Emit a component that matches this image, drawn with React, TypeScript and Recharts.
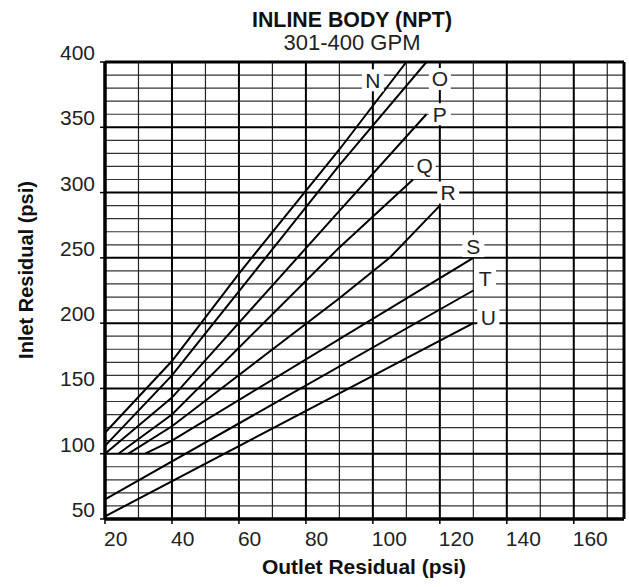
import React from 'react';
import { ComposedChart, Line, XAxis, YAxis, CartesianGrid, Scatter } from 'recharts';

// ---- data (outlet psi -> inlet psi) ----
const xTicks = [20, 40, 60, 80, 100, 120, 140, 160];
const yTicks = [50, 100, 150, 200, 250, 300, 350, 400];

const lineN = [{ x: 20, y: 116 }, { x: 40, y: 171 }, { x: 60, y: 238 }, { x: 90, y: 333 }, { x: 110, y: 400 }];
const lineO = [{ x: 20, y: 106 }, { x: 40, y: 160 }, { x: 90, y: 321 }, { x: 116, y: 400 }];
const lineP = [{ x: 20, y: 100 }, { x: 40, y: 143 }, { x: 90, y: 286 }, { x: 116, y: 360 }];
const lineQ = [{ x: 24, y: 100 }, { x: 40, y: 130 }, { x: 90, y: 258 }, { x: 112, y: 310 }];
const lineR = [{ x: 27, y: 100 }, { x: 40, y: 121 }, { x: 90, y: 219 }, { x: 105, y: 250 }, { x: 120, y: 290 }];
const lineS = [{ x: 32, y: 100 }, { x: 40, y: 110 }, { x: 130, y: 250 }];
const lineT = [{ x: 20, y: 65 }, { x: 130, y: 225 }];
const lineU = [{ x: 20, y: 52 }, { x: 130, y: 200 }];

const seriesList = [lineN, lineO, lineP, lineQ, lineR, lineS, lineT, lineU];

const curveLabels = [
  { x: 100, y: 386, name: 'N' },
  { x: 120, y: 387, name: 'O' },
  { x: 120, y: 360, name: 'P' },
  { x: 115.5, y: 321, name: 'Q' },
  { x: 122.5, y: 300, name: 'R' },
  { x: 130, y: 259, name: 'S' },
  { x: 133.5, y: 234, name: 'T' },
  { x: 134.5, y: 204, name: 'U' },
];

const minorY = [60, 70, 80, 90, 110, 120, 130, 140, 160, 170, 180, 190, 210, 220, 230, 240, 260, 270, 280, 290, 310, 320, 330, 340, 360, 370, 380, 390];
const majorY = [100, 150, 200, 250, 300, 350];
const minorX = [30, 50, 70, 90, 110, 130, 150, 170];
const majorX = [40, 60, 80, 100, 120, 140, 160];
const borderX = [20, 175];
const borderY = [50, 400];

const FONT = '"Liberation Sans", Arial, Helvetica, sans-serif';

const LabelShape = (props: any) => {
  const { cx, cy, payload } = props;
  return (
    <g>
      <rect x={cx - 11} y={cy - 11} width={22} height={22} fill="#fff" />
      <text x={cx} y={cy + 7.5} textAnchor="middle" fontSize={21} fontFamily={FONT} fill="#222">
        {payload.name}
      </text>
    </g>
  );
};

const XTick = (p: any) => (
  <text x={p.x - 1} y={p.y + 20} textAnchor="start" fontSize={21} fontFamily={FONT} fill="#222">
    {p.payload.value}
  </text>
);

const YTick = (p: any) => (
  <text x={p.x} y={p.y - 2} textAnchor="end" fontSize={21} fontFamily={FONT} fill="#222">
    {p.payload.value}
  </text>
);

export default function App() {
  return (
    <div style={{ position: 'absolute', left: 0, top: 0, width: 629, height: 587, background: '#fff' }}>
      <ComposedChart width={629} height={587} margin={{ top: 62, right: 5, bottom: 28, left: 0 }}>
        <CartesianGrid horizontalValues={minorY} vertical={false} stroke="#333" strokeWidth={1.2} />
        <CartesianGrid verticalValues={minorX} horizontal={false} stroke="#222" strokeWidth={1.2} />
        <CartesianGrid horizontalValues={majorY} vertical={false} stroke="#000" strokeWidth={2} />
        <CartesianGrid verticalValues={majorX} horizontal={false} stroke="#000" strokeWidth={2} />
        <CartesianGrid horizontalValues={borderY} verticalValues={borderX} stroke="#000" strokeWidth={3} />
        <XAxis
          type="number"
          dataKey="x"
          domain={[20, 175]}
          ticks={xTicks}
          interval={0}
          allowDataOverflow
          height={40}
          tickSize={5}
          tickMargin={2}
          axisLine={{ stroke: '#000', strokeWidth: 3 }}
          tickLine={{ stroke: '#000', strokeWidth: 1.5 }}
          tick={<XTick />}
        />
        <YAxis
          type="number"
          dataKey="y"
          domain={[50, 400]}
          ticks={yTicks}
          interval={0}
          allowDataOverflow
          width={105}
          tickSize={5}
          tickMargin={5}
          axisLine={{ stroke: '#000', strokeWidth: 3 }}
          tickLine={{ stroke: '#000', strokeWidth: 1.5 }}
          tick={<YTick />}
        />
        {seriesList.map((d, i) => (
          <Line
            key={i}
            data={d}
            dataKey="y"
            type="linear"
            stroke="#000"
            strokeWidth={2}
            dot={false}
            activeDot={false}
            isAnimationActive={false}
          />
        ))}
        <Scatter data={curveLabels} dataKey="y" shape={<LabelShape />} isAnimationActive={false} />
      </ComposedChart>
      <svg width={629} height={587} style={{ position: 'absolute', left: 0, top: 0, pointerEvents: 'none' }}>
        <text x={352} y={27} textAnchor="middle" fontSize={22} fontWeight="bold" fontFamily={FONT} fill="#111" textLength={200} lengthAdjust="spacingAndGlyphs">
          INLINE BODY (NPT)
        </text>
        <text x={352} y={50} textAnchor="middle" fontSize={22} fontFamily={FONT} fill="#222">
          301-400 GPM
        </text>
        <text x={364} y={574} textAnchor="middle" fontSize={21} fontWeight="bold" fontFamily={FONT} fill="#111">
          Outlet Residual (psi)
        </text>
        <text
          x={0}
          y={0}
          transform="translate(33 270) rotate(-90)"
          textAnchor="middle"
          fontSize={20}
          fontWeight="bold"
          fontFamily={FONT}
          fill="#111"
        >
          Inlet Residual (psi)
        </text>
      </svg>
    </div>
  );
}
